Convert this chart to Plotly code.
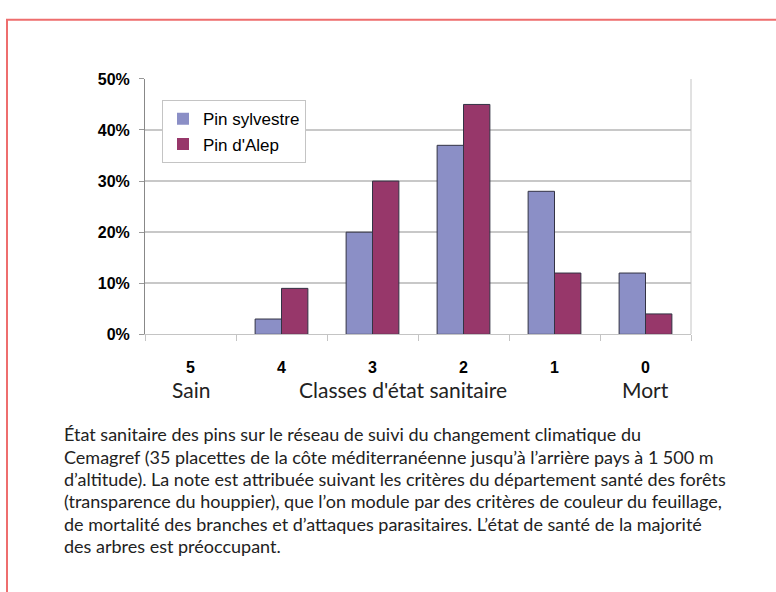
import plotly.graph_objects as go

categories = ["5", "4", "3", "2", "1", "0"]
pin_sylvestre = [0.0, 0.03, 0.20, 0.37, 0.28, 0.12]
pin_alep = [0.0, 0.09, 0.30, 0.45, 0.12, 0.04]
series_names = ["Pin sylvestre", "Pin d'Alep"]
y_ticks = [0, 0.1, 0.2, 0.3, 0.4, 0.5]

caption_lines = [
    "État sanitaire des pins sur le réseau de suivi du changement climatique du",
    "Cemagref (35 placettes de la côte méditerranéenne jusqu’à l’arrière pays à 1\u202f500\u202fm",
    "d’altitude). La note est attribuée suivant les critères du département santé des forêts",
    "(transparence du houppier), que l’on module par des critères de couleur du feuillage,",
    "de mortalité des branches et d’attaques parasitaires. L’état de santé de la majorité",
    "des arbres est préoccupant.",
]

W, H = 776, 592
x0, x1 = 145, 691
y_top, y_bot = 73, 336

arial = "Liberation Sans, Arial, sans-serif"
humanist = "Lato, sans-serif"


def edge_widths(vals):
    return [0 if v == 0 else 1 for v in vals]


fig = go.Figure()
fig.add_trace(go.Bar(x=categories, y=pin_sylvestre, name=series_names[0],
                     marker=dict(color="#8B8FC6",
                                 line=dict(color="#333344", width=edge_widths(pin_sylvestre)))))
fig.add_trace(go.Bar(x=categories, y=pin_alep, name=series_names[1],
                     marker=dict(color="#97376A",
                                 line=dict(color="#333344", width=edge_widths(pin_alep)))))

fig.update_layout(
    width=W, height=H,
    margin=dict(l=0, r=0, t=0, b=0),
    paper_bgcolor="white", plot_bgcolor="white",
    barmode="group", bargap=0.42, bargroupgap=0,
    showlegend=True,
    legend=dict(x=162 / W, y=1 - 95 / H, xanchor="left", yanchor="top",
                bordercolor="#c4c4c4", borderwidth=1, bgcolor="white",
                font=dict(family=arial, size=17, color="black"),
                itemwidth=30, tracegroupgap=0),
    xaxis=dict(domain=[x0 / W, x1 / W], type="category",
               showline=True, linecolor="#c4c4c4", linewidth=1,
               ticks="outside", tickson="boundaries", ticklen=6, tickcolor="#c4c4c4",
               tickfont=dict(family=arial, size=16, color="black", weight="bold"),
               ticklabelstandoff=18, showgrid=False),
    yaxis=dict(domain=[1 - y_bot / H, 1 - y_top / H], range=[0, 0.5],
               tickvals=y_ticks, tickformat=".0%",
               showline=True, linecolor="#888888", linewidth=1,
               ticks="outside", ticklen=5, tickcolor="#999999",
               showgrid=True, gridcolor="#c8c8c8", gridwidth=1.5,
               tickfont=dict(family=arial, size=16, color="black", weight="bold"),
               ticklabelstandoff=6, zeroline=False),
)

# right border of plot area
fig.add_shape(type="line", xref="x domain", yref="y", x0=1, x1=1, y0=0, y1=0.5,
              line=dict(color="#c4c4c4", width=1))
# page frame
fig.add_shape(type="rect", xref="paper", yref="paper",
              x0=7 / W, x1=1.1, y0=-0.1, y1=1 - 12 / H,
              line=dict(color="#EE6E6E", width=2))

# axis sub-labels
for xpos, txt in [(0, "Sain"), (2.34, "Classes d'état sanitaire"), (5, "Mort")]:
    fig.add_annotation(xref="x", yref="paper", x=xpos, y=1 - 393 / H, text=txt,
                       showarrow=False, xanchor="center", yanchor="middle",
                       font=dict(family=humanist, size=21, color="#222222"))

# caption
for i, line in enumerate(caption_lines):
    fig.add_annotation(xref="paper", yref="paper", x=62 / W, y=1 - (439 + 23 * i) / H,
                       text=line, showarrow=False, xanchor="left", yanchor="middle",
                       align="left", font=dict(family=humanist, size=18, color="#222222"))

fig.write_html("out.html", config={"displayModeBar": False},
               post_script="document.body.style.margin='0';document.body.style.padding='0';")
